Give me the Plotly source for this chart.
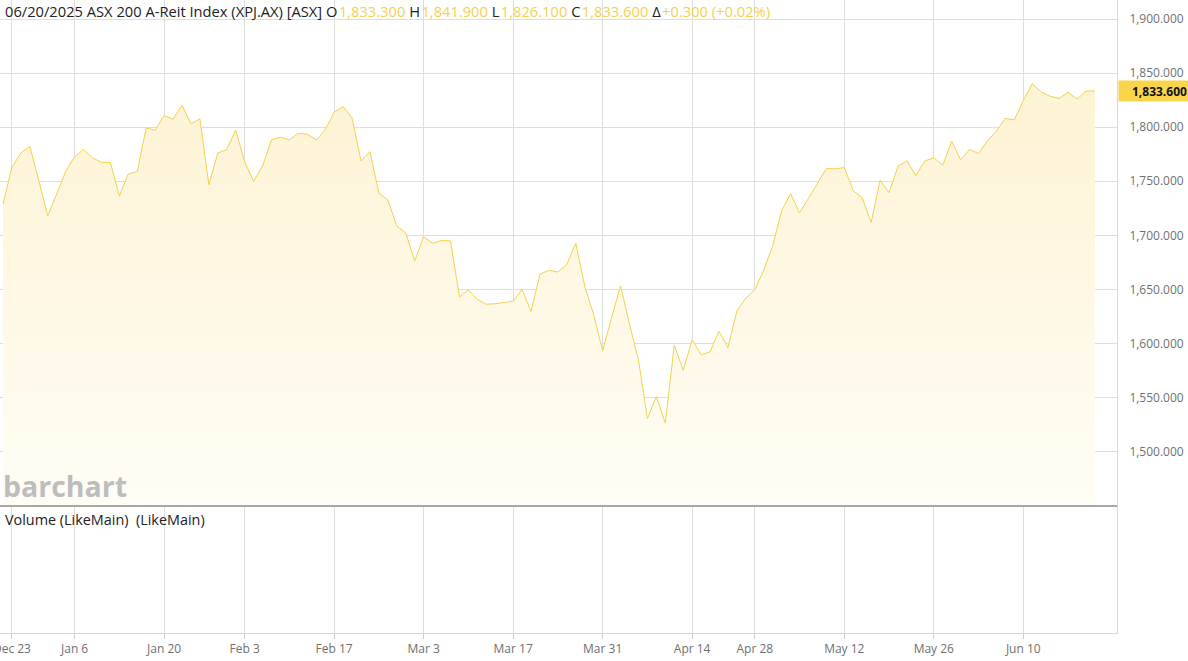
import pandas as pd
import plotly.graph_objects as go

# ---- data ----
holidays = ["2024-12-25", "2024-12-26", "2025-01-01", "2025-01-27",
            "2025-04-18", "2025-04-21", "2025-04-25", "2025-06-09"]
dates = [d for d in pd.bdate_range("2024-12-20", "2025-06-20")
         if d.strftime("%Y-%m-%d") not in holidays]

closes = [
    1729.0, 1763.0, 1776.2, 1782.4, 1750.6, 1718.2, 1738.3, 1759.0, 1772.8, 1779.3,
    1771.6, 1767.6, 1767.3, 1736.4, 1756.8, 1759.0, 1799.4, 1797.2, 1810.8, 1807.4,
    1820.4, 1803.1, 1807.7, 1746.9, 1776.2, 1779.3, 1797.5, 1768.0, 1750.0, 1764.2,
    1788.6, 1790.7, 1788.3, 1794.4, 1793.5, 1788.3, 1797.5, 1813.9, 1819.1, 1808.6,
    1768.8, 1777.5, 1739.2, 1732.7, 1708.7, 1702.2, 1676.3, 1698.8, 1692.6, 1695.4,
    1694.8, 1643.2, 1649.7, 1640.8, 1636.4, 1636.8, 1638.0, 1639.2, 1650.0, 1629.6,
    1664.2, 1667.6, 1666.1, 1673.2, 1692.6, 1653.0, 1626.5, 1593.2, 1624.1, 1653.4,
    1618.0, 1585.0, 1530.6, 1551.0, 1526.6, 1598.5, 1575.3, 1603.4, 1589.5, 1592.3,
    1611.4, 1596.3, 1630.2, 1642.0, 1649.7, 1667.9, 1690.4, 1722.8, 1738.5, 1720.9,
    1734.2, 1748.1, 1761.8, 1761.5, 1762.7, 1741.3, 1734.8, 1711.9, 1750.9, 1739.5,
    1763.9, 1768.9, 1755.3, 1768.9, 1771.7, 1764.9, 1787.2, 1769.8, 1779.4, 1775.7,
    1787.5, 1796.4, 1808.2, 1806.7, 1824.9, 1840.1, 1832.7, 1828.6, 1826.5, 1832.4,
    1825.9, 1833.3, 1833.6,
]

tick_dates = ["2024-12-23", "2025-01-06", "2025-01-20", "2025-02-03", "2025-02-17",
              "2025-03-03", "2025-03-17", "2025-03-31", "2025-04-14", "2025-04-28",
              "2025-05-12", "2025-05-26", "2025-06-10"]
tick_labels = ["Dec 23", "Jan 6", "Jan 20", "Feb 3", "Feb 17", "Mar 3", "Mar 17",
               "Mar 31", "Apr 14", "Apr 28", "May 12", "May 26", "Jun 10"]
y_ticks = [1500, 1550, 1600, 1650, 1700, 1750, 1800, 1850, 1900]

header_label = "06/20/2025 ASX 200 A-Reit Index (XPJ.AX) [ASX]"
ohlc = [("O", "1,833.300"), ("H", "1,841.900"), ("L", "1,826.100"),
        ("C", "1,833.600"), ("Δ", "+0.300 (+0.02%)")]
last_price = 1833.6

# ---- build ----
date_str = [d.strftime("%Y-%m-%d") for d in dates]
idx = list(range(len(dates)))
tick_idx = [date_str.index(t) for t in tick_dates]

YEL = "#F6D04D"
GRID = "#dedede"
split = 0.1994

fig = go.Figure()
fig.add_trace(go.Scatter(
    x=idx, y=closes, mode="lines",
    line=dict(color=YEL, width=1),
    fill="tozeroy",
    fillgradient=dict(type="vertical",
                      colorscale=[[0, "rgba(255,253,245,1)"], [1, "rgba(253,243,212,1)"]],
                      start=1449, stop=1840),
    hoverinfo="skip", showlegend=False, xaxis="x", yaxis="y",
))
fig.add_trace(go.Scatter(
    x=[idx[0], idx[-1]], y=[None, None], mode="lines",
    hoverinfo="skip", showlegend=False, xaxis="x2", yaxis="y2",
))

xr = [-0.335, 124.47]
fig.update_layout(
    template="none",
    width=1188, height=661,
    margin=dict(l=0, r=71, t=0, b=28, pad=0),
    paper_bgcolor="white", plot_bgcolor="white",
    font=dict(family="Open Sans", size=12, color="#666"),
    showlegend=False,
    xaxis=dict(domain=[0, 1], anchor="y", range=xr, tickvals=tick_idx,
               automargin=False,
               showticklabels=False, showgrid=True, gridcolor=GRID, gridwidth=1,
               zeroline=False, showline=False, ticks=""),
    xaxis2=dict(domain=[0, 1], anchor="y2", range=xr, matches="x",
                automargin=False,
                tickvals=tick_idx, ticktext=tick_labels,
                showgrid=True, gridcolor=GRID, gridwidth=1, zeroline=False,
                showline=True, linecolor="#d8d8d8", linewidth=1,
                ticks="outside", ticklen=5, tickcolor="#d0d0d0",
                ticklabeloverflow="allow",
                tickfont=dict(size=12, color="#707070")),
    yaxis=dict(domain=[split, 1], anchor="x", side="right",
               automargin=False,
               range=[1449.1, 1917.6], tickvals=y_ticks, tickformat=",.3f",
               showgrid=True, gridcolor=GRID, gridwidth=1, zeroline=False,
               showline=True, linecolor="#d8d8d8",
               ticks="outside", ticklen=9, tickcolor="rgba(0,0,0,0)",
               tickfont=dict(size=12, color="#707070")),
    yaxis2=dict(domain=[0, split], anchor="x2", side="right", range=[0, 1],
                automargin=False,
                showgrid=False, showticklabels=False, zeroline=False,
                showline=True, linecolor="#d8d8d8", ticks=""),
)

H = 633.0
# separator between panes
fig.add_shape(type="line", xref="paper", yref="paper", x0=0, x1=1,
              y0=1 - 506 / H, y1=1 - 506 / H, line=dict(color="#a8a8a8", width=2))

HAIR = "\u200A"
parts = [header_label]
for k, v in ohlc:
    parts.append(f"{k}{HAIR}<span style='color:{YEL}'>{v}</span>")
header = "&nbsp;".join(parts)

fig.add_annotation(xref="paper", yref="paper", x=0, y=1 - 11 / H,
                   xanchor="left", yanchor="middle", xshift=3, showarrow=False,
                   text=header, font=dict(family="Open Sans", size=14.7, color="#222"))
fig.add_annotation(xref="paper", yref="paper", x=0, y=1 - 486 / H,
                   xanchor="left", yanchor="middle", xshift=1, showarrow=False,
                   text="<b>barchart</b>",
                   font=dict(family="Open Sans", size=28.5, color="#bdbdbd"))
fig.add_annotation(xref="paper", yref="paper", x=0, y=1 - 519 / H,
                   xanchor="left", yanchor="middle", xshift=3, showarrow=False,
                   text="Volume (LikeMain)&nbsp;&nbsp;(LikeMain)",
                   font=dict(family="Open Sans", size=14.4, color="#222"))
fig.add_annotation(xref="paper", yref="y", x=1, y=last_price,
                   xanchor="left", yanchor="middle", xshift=1, showarrow=False,
                   text=f"<b>{last_price:,.3f}</b>", bgcolor="#F9D54C",
                   width=66, height=16, borderpad=2, align="right",
                   font=dict(family="Open Sans", size=12, color="#111"))

fig.write_html("out.html", config={"displayModeBar": False},
               post_script="document.body.style.margin='0';")
